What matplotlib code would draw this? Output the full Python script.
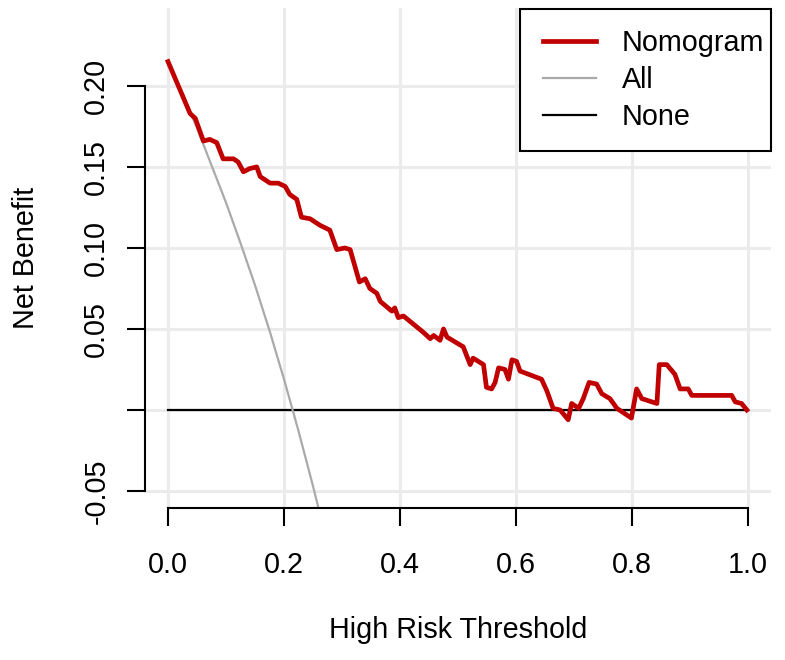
import matplotlib
matplotlib.use("Agg")
from matplotlib import pyplot as plt
from matplotlib.patches import Rectangle

# decision curve
threshold = [0.0, 0.038, 0.047, 0.061, 0.072, 0.084, 0.095, 0.113, 0.121, 0.130,
             0.141, 0.153, 0.159, 0.176, 0.190, 0.202, 0.210, 0.222, 0.230, 0.245,
             0.262, 0.279, 0.291, 0.305, 0.314, 0.330, 0.340, 0.348, 0.360, 0.366,
             0.386, 0.391, 0.397, 0.406, 0.423, 0.440, 0.452, 0.458, 0.469, 0.475,
             0.481, 0.509, 0.521, 0.526, 0.544, 0.549, 0.558, 0.564, 0.570, 0.581,
             0.587, 0.593, 0.601, 0.607, 0.644, 0.653, 0.664, 0.676, 0.690, 0.696,
             0.708, 0.716, 0.726, 0.739, 0.748, 0.762, 0.774, 0.799, 0.808, 0.817,
             0.843, 0.847, 0.860, 0.874, 0.883, 0.897, 0.903, 0.972, 0.978, 0.989,
             0.998]
nomogram = [0.215, 0.183, 0.180, 0.166, 0.167, 0.165, 0.155, 0.155, 0.153, 0.147,
            0.149, 0.150, 0.144, 0.140, 0.140, 0.138, 0.133, 0.130, 0.119, 0.118,
            0.114, 0.111, 0.099, 0.100, 0.099, 0.079, 0.081, 0.075, 0.072, 0.067,
            0.061, 0.063, 0.057, 0.058, 0.053, 0.048, 0.044, 0.046, 0.043, 0.050,
            0.045, 0.039, 0.028, 0.032, 0.028, 0.014, 0.013, 0.017, 0.026, 0.025,
            0.019, 0.031, 0.030, 0.024, 0.019, 0.012, 0.001, 0.000, -0.006, 0.004,
            0.001, 0.007, 0.017, 0.016, 0.010, 0.007, 0.001, -0.005, 0.013, 0.007,
            0.004, 0.028, 0.028, 0.022, 0.013, 0.013, 0.009, 0.009, 0.005, 0.004,
            0.000]

# treat-all curve
all_threshold = [0.0, 0.025, 0.05, 0.075, 0.10, 0.125, 0.15, 0.175, 0.20, 0.225,
                 0.25, 0.275, 0.30]
all_benefit = [0.215, 0.195, 0.174, 0.151, 0.128, 0.103, 0.077, 0.049, 0.019, -0.013,
               -0.047, -0.083, -0.121]

none_threshold = [0.0, 1.0]
none_benefit = [0.0, 0.0]

x_ticks = [0.0, 0.2, 0.4, 0.6, 0.8, 1.0]
x_labels = ["0.0", "0.2", "0.4", "0.6", "0.8", "1.0"]
y_ticks = [-0.05, 0.0, 0.05, 0.10, 0.15, 0.20]
y_labels = ["-0.05", "", "0.05", "0.10", "0.15", "0.20"]

plt.rcParams["font.family"] = ["Liberation Sans", "DejaVu Sans"]
plt.rcParams["font.size"] = 20.7

W, H = 785, 660
fig = plt.figure(figsize=(W / 100, H / 100), dpi=100)
ax = fig.add_axes([145 / W, 1 - 508 / H, (771 - 145) / W, (508 - 8) / H])

ax.set_xlim(-0.0397, 1.0397)
ax.set_ylim(-0.0605, 0.2481)

grid_col = "#ebebeb"
for gx in x_ticks:
    ax.axvline(gx, color=grid_col, lw=2.2, zorder=0)
for gy in y_ticks:
    ax.axhline(gy, color=grid_col, lw=2.2, zorder=0)

ax.plot(none_threshold, none_benefit, color="black", lw=1.6, label="None", zorder=2)
ax.plot(all_threshold, all_benefit, color="#aaaaaa", lw=1.6, label="All", zorder=2)
ax.plot(threshold, nomogram, color="#c00000", lw=3.4, label="Nomogram", zorder=3,
        solid_joinstyle="round")

for side in ["top", "right"]:
    ax.spines[side].set_visible(False)
ax.spines["left"].set_bounds(-0.05, 0.20)
ax.spines["bottom"].set_bounds(0.0, 1.0)
ax.spines["left"].set_linewidth(1.5)
ax.spines["bottom"].set_linewidth(1.5)

ax.set_xticks(x_ticks)
ax.set_xticklabels(x_labels)
ax.set_yticks(y_ticks)
ax.set_yticklabels(y_labels, rotation=90, va="center")
ax.tick_params(direction="out", length=13, width=1.5)
ax.tick_params(axis="x", pad=18)
ax.tick_params(axis="y", pad=12)

fig.text(458 / W, 1 - 630 / H, "High Risk Threshold", ha="center", va="center")
fig.text(26 / W, 1 - 258 / H, "Net Benefit", ha="center", va="center", rotation=90)

# legend box drawn like R's: wider pad on the left
fig.patches.append(Rectangle((520 / W, 1 - 151 / H), (771 - 520) / W, (151 - 9) / H,
                             transform=fig.transFigure, facecolor="white",
                             edgecolor="black", lw=1.5, zorder=5))
handles, labels = ax.get_legend_handles_labels()
order = [2, 1, 0]
leg = fig.legend([handles[i] for i in order], [labels[i] for i in order],
                 loc="center left", bbox_to_anchor=(543 / W, 1 - 80 / H),
                 borderaxespad=0, borderpad=0, frameon=False,
                 handlelength=1.85, handletextpad=0.9, labelspacing=0.32)
leg.set_zorder(6)

fig.savefig("out.png", dpi=100)
